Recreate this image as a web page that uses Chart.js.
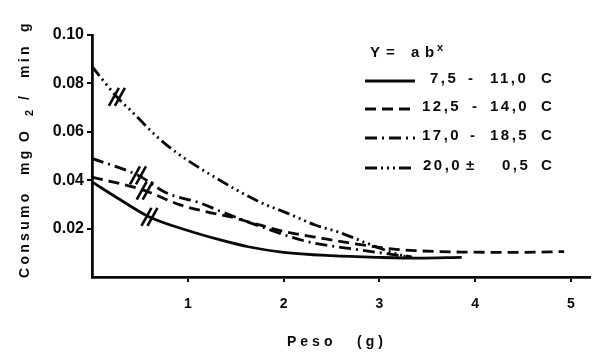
<!DOCTYPE html>
<html>
<head>
<meta charset="utf-8">
<script src="https://cdn.jsdelivr.net/npm/chart.js@4/dist/chart.umd.min.js"></script>
<style>
  html, body { margin: 0; padding: 0; background: #fff; }
  #wrap { width: 600px; height: 353px; position: relative; }
</style>
</head>
<body>
<div id="wrap"><canvas id="chart"></canvas></div>
<script>
// Consumo de O2 x Peso - curvas por faixa de temperatura
var seriesLabels = ['7,5 - 11,0 C', '12,5 - 14,0 C', '17,0 - 18,5 C', '20,0 ± 0,5 C'];

var xT1 = [0, 0.3, 0.6, 1.0, 1.34, 1.63, 2.0, 2.5, 3.0, 3.4, 3.86];
var yT1 = [0.0393, 0.0318, 0.0248, 0.0192, 0.0153, 0.0125, 0.0102, 0.0088, 0.0081, 0.0078, 0.0081];

var xT2 = [0, 0.53, 0.92, 1.2, 1.45, 1.75, 2.03, 2.4, 2.67, 3.13, 3.37, 3.86, 4.5, 4.93];
var yT2 = [0.0413, 0.036, 0.0298, 0.0269, 0.0248, 0.0215, 0.0186, 0.016, 0.0142, 0.0116, 0.0109, 0.0103, 0.0102, 0.0105];

var xT3 = [0, 0.48, 0.78, 1.13, 1.32, 1.75, 2.25, 2.8, 3.32];
var yT3 = [0.049, 0.042, 0.0347, 0.0306, 0.0275, 0.021, 0.0146, 0.0112, 0.0083];

var xT4 = [0, 0.26, 0.43, 0.68, 0.89, 1.27, 1.75, 2.05, 2.33, 2.6, 2.92, 3.2, 3.34];
var yT4 = [0.087, 0.0744, 0.0678, 0.0579, 0.0512, 0.0415, 0.031, 0.0262, 0.0215, 0.0182, 0.0132, 0.0093, 0.0083];

// onde cada curva leva o sinal de quebra "//"
var breakX = [0.6, 0.55, 0.48, 0.26];

var xTicks = [1, 2, 3, 4, 5];
var yTicks = [0.02, 0.04, 0.06, 0.08, 0.10];

var INK = '#0a0a0a';
var FONT = '"Liberation Sans", Arial, sans-serif';
var dashes = [[], [11, 6], [12, 5, 2, 5], [12, 4, 2, 4, 2, 4, 2, 4]];

function pts(xs, ys) {
  return xs.map(function(x, i){ return { x: x, y: ys[i] }; });
}

function interp(xs, ys, x) {
  for (var i = 1; i < xs.length; i++) {
    if (x <= xs[i]) {
      var t = (x - xs[i-1]) / (xs[i] - xs[i-1]);
      return ys[i-1] + t * (ys[i] - ys[i-1]);
    }
  }
  return ys[ys.length - 1];
}

var allX = [xT1, xT2, xT3, xT4];
var allY = [yT1, yT2, yT3, yT4];

var extras = {
  id: 'extras',
  afterDatasetsDraw: function(chart) {
    var ctx = chart.ctx;
    var sx = chart.scales.x, sy = chart.scales.y;
    ctx.save();
    ctx.strokeStyle = INK;
    ctx.fillStyle = INK;
    ctx.lineCap = 'butt';

    // sinais de quebra
    ctx.lineWidth = 2.6;
    ctx.setLineDash([]);
    breakX.forEach(function(bx, i) {
      var px = sx.getPixelForValue(bx);
      var py = sy.getPixelForValue(interp(allX[i], allY[i], bx));
      [-3, 3].forEach(function(off) {
        ctx.beginPath();
        ctx.moveTo(px + off - 5, py + 9);
        ctx.lineTo(px + off + 5, py - 9);
        ctx.stroke();
      });
    });

    // titulo eixo x
    ctx.font = 'bold 14px ' + FONT;
    ctx.letterSpacing = '4px';
    ctx.textAlign = 'left';
    ctx.textBaseline = 'alphabetic';
    ctx.fillText('Peso', 287, 346);
    ctx.fillText('(g)', 357, 346);

    // titulo eixo y (rotacionado)
    ctx.save();
    ctx.letterSpacing = '3.3px';
    ctx.translate(29, 0);
    ctx.rotate(-Math.PI / 2);
    var yParts = [['Consumo', 278], ['mg', 175], ['O', 142], ['/', 100], ['min', 78], ['g', 32]];
    yParts.forEach(function(p) { ctx.fillText(p[0], -p[1], 0); });
    ctx.font = 'bold 11px ' + FONT;
    ctx.fillText('2', -116, 4);
    ctx.restore();

    // legenda
    ctx.font = 'bold 15px ' + FONT;
    ctx.letterSpacing = '2px';
    ctx.fillText('Y', 370, 57);
    ctx.fillText('=', 386, 57);
    ctx.fillText('a', 411, 57);
    ctx.fillText('b', 425, 57);
    ctx.font = 'bold 11px ' + FONT;
    ctx.fillText('x', 437, 51);

    var rowY = [79, 107, 136, 166];
    var rowParts = [
      [['7,5', 430], ['-', 468], ['11,0', 490], ['C', 541]],
      [['12,5', 422], ['-', 472], ['14,0', 490], ['C', 541]],
      [['17,0', 422], ['-', 470], ['18,5', 490], ['C', 541]],
      [['20,0', 423], ['±', 466], ['0,5', 502], ['C', 541]]
    ];
    ctx.font = 'bold 15px ' + FONT;
    ctx.letterSpacing = '2.5px';
    ctx.textBaseline = 'middle';
    rowY.forEach(function(ry, i) {
      ctx.lineWidth = 2.8;
      ctx.setLineDash(dashes[i]);
      ctx.beginPath();
      ctx.moveTo(365, ry + 2);
      ctx.lineTo(415, ry + 2);
      ctx.stroke();
      rowParts[i].forEach(function(p) { ctx.fillText(p[0], p[1], ry); });
    });
    ctx.restore();
  }
};

var datasets = [0, 1, 2, 3].map(function(i) {
  return {
    label: seriesLabels[i],
    data: pts(allX[i], allY[i]),
    borderColor: INK,
    borderWidth: 2.8,
    borderDash: dashes[i],
    pointRadius: 0,
    fill: false,
    cubicInterpolationMode: 'monotone'
  };
});

new Chart(document.getElementById('chart'), {
  type: 'line',
  data: { datasets: datasets },
  options: {
    responsive: true,
    maintainAspectRatio: false,
    animation: false,
    layout: { padding: { top: 35, right: 10, left: 0, bottom: 0 } },
    plugins: { legend: { display: false }, tooltip: { enabled: false } },
    scales: {
      x: {
        type: 'linear', min: 0, max: 5.2,
        afterBuildTicks: function(s) { s.ticks = xTicks.map(function(v){ return { value: v }; }); },
        afterFit: function(s) { s.height = 76; },
        border: { color: INK, width: 2.8 },
        grid: { drawOnChartArea: false, drawTicks: true, tickLength: 5, color: INK, lineWidth: 2 },
        ticks: { color: INK, padding: 14, font: { family: FONT, size: 14, weight: 'bold' },
                 callback: function(v) { return String(v); } }
      },
      y: {
        type: 'linear', min: 0, max: 0.10,
        afterBuildTicks: function(s) { s.ticks = yTicks.map(function(v){ return { value: v }; }); },
        afterFit: function(s) { s.width = 92; },
        border: { color: INK, width: 2.8 },
        grid: { drawOnChartArea: false, drawTicks: true, tickLength: 5, color: INK, lineWidth: 2 },
        ticks: { color: INK, padding: 3, font: { family: FONT, size: 16, weight: 'bold' },
                 callback: function(v) { return v.toFixed(2); } }
      }
    }
  },
  plugins: [extras]
});
</script>
</body>
</html>
